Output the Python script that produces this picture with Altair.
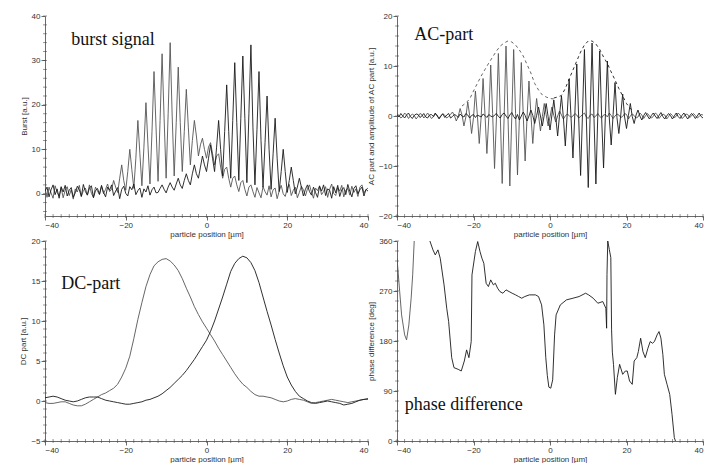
import altair as alt
import pandas as pd

# ---------------- data ----------------
# burst signal, sampled every 0.5 um from -40 to 40
burst_a = [1.2, -0.8, 1.5, 0.2, -1.0, 1.8, 0.3, -0.5, 1.4, -0.9, 0.8, 1.6, -0.4, 0.9, -1.2, 1.1, 0.4, 1.9, -0.6, 0.7,
           1.3, -0.3, 2.0, 0.1, -0.8, 1.5, 0.6, -0.2, 1.7, 0.0, 1.0, 2.2, 0.5,
           1.0, 3.0, 1.5, 0.3, 3.5, 6.5, 3.0, 0.8, 5.0, 10.0, 5.5, 1.2, 8.0, 16.5, 9.0, 1.8, 10.5, 20.5, 11.0, 2.2,
           14.0, 27.5, 15.0, 2.8, 16.5, 31.5, 17.0, 3.5, 18.0, 34.0, 17.5, 4.0, 16.0, 28.5, 16.0, 5.0, 14.0, 23.5,
           15.0, 6.5, 12.0, 16.5, 13.0, 8.5, 11.0, 12.5, 10.0, 8.0, 10.5, 11.5, 9.0, 6.5, 8.5, 9.0, 6.0, 3.5, 5.5,
           6.0, 3.5, 1.5, 3.5, 4.0, 2.0, 0.5, 2.5, 3.0, 1.0, -0.5, 1.5, 2.0, 0.5, -0.8,
           1.4, 0.2, -0.9, 1.6, 0.5, -0.3, 1.8, -0.7, 0.9, 1.3, -1.1, 0.6, 1.9, 0.0, -0.6, 1.2, 2.1, -0.4, 0.8, 1.5,
           -0.9, 0.3, 1.7, 0.9, -0.5, 1.1, 2.0, 0.4, -1.0, 1.3, 0.7, 1.8, -0.2, 0.5, 1.6, -0.8, 1.0, 2.2, 0.1, -0.4,
           1.4, 0.6, 1.9, -0.7, 0.8, 1.2, -0.3, 1.7, 0.3, 1.1, -0.6, 1.5, 2.0, 0.2, 0.9, 1.3]
burst_b = [0.6, 1.5, -0.7, 0.9, 2.0, -0.2, 1.1, -1.0, 1.6, 0.4, 1.9, -0.5, 0.8, 1.4, -0.8, 0.2, 1.7, 0.9, -0.6, 2.1,
           0.5, -0.3, 1.3, 1.8, -0.9, 0.7, 1.2, -0.1, 1.9, 0.3, -0.7, 1.5, 0.8, 2.0, -0.4, 0.6, 1.4, -1.1, 1.0, 1.7,
           0.1, -0.5, 1.6, 0.9, 2.2, -0.2, 0.7, 1.3, -0.8, 1.1, 0.4, 1.8, -0.3, 0.9, 1.5, 0.2,
           0.3, 1.2, 2.0, 1.0, 0.2, 1.5, 2.5, 1.5, 0.8, 2.2, 3.5, 2.0, 1.2, 3.0, 4.5, 3.0, 2.0, 4.5, 6.5, 4.5, 3.5,
           6.0, 8.5, 6.5, 5.0, 8.0, 11.0, 8.0, 5.0, 10.5, 16.5, 10.0, 4.0, 14.0, 24.5, 14.0, 3.5, 16.5, 29.5, 16.0,
           3.0, 17.0, 31.0, 17.0, 2.5, 18.0, 33.5, 15.0, 2.0, 14.5, 27.5, 12.0, 1.5, 11.5, 22.0, 10.0, 1.0, 9.0,
           17.0, 8.0, 0.5, 5.0, 10.0, 5.0, 0.3, 3.0, 6.0, 3.0, 0.0, 1.5, 3.5, 1.5, -0.5, 1.0, 2.0, 0.5, -0.3,
           1.5, 0.3, -0.8, 1.7, 0.6, 2.0, -0.4, 1.1, 0.8, -1.0, 1.6, 0.2, 1.9, -0.6, 0.9, 1.4, -0.2, 2.1, 0.5, -0.7,
           1.2, 1.8, 0.0, 0.9, 1.5, -0.5, 1.0, 0.6]

# AC part, sampled every 0.5 um from -40 to 40
ac_a = [0.5, 0.1, -0.4, -0.1, 0.6, 0.2, -0.5, 0.0, 0.4, 0.1, -0.6, -0.1, 0.5, 0.3, -0.4, 0.0, 0.6, 0.1, -0.5, -0.2,
        0.4, 0.2, -0.6, 0.0, 0.5, 0.1, -0.4, -0.1, 0.3,
        0.8, 0.1, -1.0, -0.1, 1.5, 0.2, -2.0, -0.2, 2.8, 0.1, -3.5, -0.3, 5.0, 0.3, -5.5, -0.2, 7.5, 0.4, -7.5, -0.3,
        10.2, 0.5, -10.5, -0.4, 12.5, 0.3, -13.5, -0.5, 14.0, 0.4, -14.0, -0.3, 13.3, 0.5, -11.8, -0.4, 10.7, 0.3,
        -9.0, -0.2, 7.0, 0.4, -5.5, -0.3, 3.5, 0.2, -3.0, -0.1, 2.5, 0.3, -2.0, -0.2, 1.8, 0.1, -1.2, 0.0, 1.0, 0.2,
        -0.6, 0.0,
        0.4, 0.1, -0.3, 0.0, 0.5, 0.2, -0.4, -0.1, 0.3, 0.6, -0.2, -0.5, 0.2, 0.4, -0.3, 0.0, 0.5, -0.1, -0.4, 0.2,
        0.3, -0.2, 0.6, 0.1, -0.5, 0.0, 0.4, 0.2, -0.3, -0.1, 0.5, 0.3, -0.6, 0.0, 0.4, 0.1, -0.4, -0.2, 0.6, 0.2,
        -0.5, 0.1, 0.5, 0.0, -0.4, -0.1, 0.6, 0.3, -0.5, 0.0, 0.4, 0.2, -0.6, -0.1, 0.5, 0.1, -0.4, 0.0, 0.6, 0.2,
        -0.5, -0.2, 0.4, 0.3, -0.3, 0.0, 0.5, 0.1, -0.4, -0.1, 0.3, 0.2]
ac_b = [0.3, -0.2, 0.5, 0.0, -0.4, 0.2, 0.6, -0.1, -0.5, 0.1, 0.4, 0.3, -0.3, 0.0, 0.5, -0.2, -0.4, 0.2, 0.3, -0.1,
        0.6, 0.0, -0.5, 0.1, 0.4, -0.3, 0.2, 0.5, -0.4, -0.1, 0.3, 0.1, -0.3, 0.4, 0.0, -0.2, 0.5, 0.2, -0.4, 0.1,
        0.3, -0.3, 0.2, 0.0, -0.2, 0.4, 0.1, -0.3, 0.3, 0.0, -0.2, 0.2, 0.5, -0.1, -0.4, 0.3, 0.6, 0.0, -0.5, 0.2,
        0.7, -0.1, -0.6, 0.3, -0.8, 0.0, 0.8, 0.1, -1.0, 0.0, 1.2, 0.1,
        -1.5, 0.1, 1.8, 0.0, -2.0, 0.2, 2.5, -0.1, -2.8, 0.2, 3.2, -0.2, -4.0, 0.3, 4.0, -0.3, -6.0, 0.4, 7.4, -0.3,
        -8.4, 0.5, 10.4, -0.4, -11.9, 0.5, 13.3, -0.4, -14.3, 0.3, 14.6, -0.5, -13.6, 0.4, 13.0, -0.3, -10.4, 0.5,
        11.0, -0.4, -5.8, 0.3, 6.7, -0.3, -3.5, 0.2, 4.4, -0.2, -2.5, 0.1, 2.5, -0.1, -1.5, 0.2, 1.2, 0.0, -0.8, 0.1,
        0.7,
        0.0, -0.6, 0.1, 0.6, 0.0, -0.5, 0.1, 0.7, -0.1, -0.6, 0.0, 0.5, 0.1, -0.6, 0.0, 0.6, -0.1, -0.5, 0.1, 0.6,
        0.0, -0.6, 0.0, 0.5, 0.1, -0.5, 0.0, 0.6, -0.1, -0.4]

# amplitude (envelope) of AC part, every 1 um
amp_a_x = list(range(-23, 2))
amp_a = [2.0, 2.6, 3.4, 5.0, 6.5, 8.0, 9.3, 10.6, 11.8, 13.0, 14.0, 14.6, 15.0, 14.8, 14.2, 13.2, 12.0, 10.3, 8.6,
         6.5, 5.2, 4.2, 3.8, 3.5, 3.4]
amp_b_x = list(range(1, 23))
amp_b = [3.6, 3.8, 4.1, 5.5, 7.4, 9.2, 11.0, 12.8, 14.2, 15.0, 15.0, 14.4, 13.3, 11.8, 10.5, 8.8, 7.2, 5.5, 4.0,
         2.5, 1.5, 1.0]

# DC part, every 1 um from -40 to 40
dc_a = [-0.2, -0.3, -0.3, -0.2, -0.1, -0.1, -0.3, -0.5, -0.6, -0.6, -0.4, -0.1, 0.2, 0.5, 0.8, 1.0, 1.3, 1.6, 2.1,
        3.0, 4.1, 5.6, 7.8, 10.2, 12.3, 14.3, 15.8, 16.9, 17.4, 17.7, 17.8, 17.5, 17.0, 16.3, 15.3, 14.1, 13.0, 11.8,
        10.8, 9.9, 9.1, 8.3, 7.5, 6.6, 5.8, 5.0, 4.2, 3.4, 2.7, 2.1, 1.7, 1.2, 0.8, 0.6, 0.6, 0.5, 0.4, 0.2, 0.0,
        -0.1, 0.0, 0.2, 0.3, 0.2, 0.1, -0.1, -0.3, -0.2, -0.1, 0.0, 0.1, 0.2, 0.1, 0.0, -0.1, -0.2, -0.1, 0.0, 0.1,
        0.2, 0.2]
dc_b = [0.4, 0.5, 0.6, 0.5, 0.3, 0.1, 0.0, -0.1, 0.0, 0.2, 0.4, 0.5, 0.5, 0.5, 0.3, 0.1, 0.0, -0.1, -0.2, -0.3,
        -0.4, -0.4, -0.3, -0.2, -0.1, 0.1, 0.2, 0.4, 0.6, 0.9, 1.3, 1.7, 2.2, 2.7, 3.2, 3.8, 4.5, 5.2, 6.0, 6.8, 7.6,
        8.7, 10.0, 11.5, 13.0, 14.6, 16.2, 17.2, 17.8, 18.1, 17.9, 17.3, 16.3, 14.8, 13.0, 11.2, 9.5, 7.7, 6.0, 4.4,
        3.0, 2.0, 1.2, 0.6, 0.3, 0.0, -0.2, -0.3, -0.2, -0.1, 0.0, -0.1, -0.2, -0.3, -0.5, -0.4, -0.3, -0.1, 0.1,
        0.2, 0.3]

# phase difference [deg], two branches (wrapped at 360)
ph1_x = [-40, -39.3, -38.8, -38, -37.5, -36.9, -36.3, -35.9, -35.5]
ph1_y = [329, 269, 227, 191, 182, 209, 257, 299, 360]
ph2_x = [-31.4, -30.6, -30, -29.3, -28.7, -27.7, -27, -26.5, -25.7, -25.1, -24, -23.2, -22.4, -21.8, -21.2, -20.6,
         -20.4, -19.5, -18.9, -18.3, -17.8, -17.3, -16.7, -16.1, -15.5, -14.8, -14.3, -13.7, -13.1, -12.3, -11.5,
         -10.7, -9.9, -9.0, -8.2, -7.4, -6.6, -5.4, -3.8, -3.0, -2.2, -1.6, -1.1, -0.7, -0.3, 0.2, 0.7, 1.2, 1.6,
         2.7, 4.3, 6.0, 7.6, 9.3, 10.1, 11.3, 12.5, 13.8, 14.6, 14.8, 14.9, 15.1, 15.5, 15.9, 16.1, 16.3, 16.6, 17.1,
         17.6, 18.2, 19.0, 19.7, 20.2, 20.8, 21.5, 22.0, 22.7, 23.1, 23.7, 24.3, 24.9, 25.6, 26.2, 26.8, 27.3, 28.0,
         28.5, 29.0, 29.5, 29.9, 30.6, 31.3, 31.9, 32.5, 32.8]
ph2_y = [360, 344, 335, 344, 329, 281, 239, 215, 150, 132, 129, 126, 144, 164, 150, 179,
         299, 341, 359, 341, 329, 320, 284, 278, 290, 281, 284, 275, 269, 266, 272,
         269, 266, 263, 260, 257, 260, 263, 263, 260, 245, 209, 150, 118, 97, 95, 110, 191, 227,
         245, 254, 257, 260, 266, 263, 257, 248, 251, 239, 203, 300, 360, 345, 330, 200, 160, 138, 84,
         114, 138, 120, 126, 126, 108, 102, 144, 150, 161, 185, 161, 150, 167, 179, 176, 179, 191,
         197, 185, 156, 120, 102, 84, 48, 6, 0]

# axis ticks (labelled and minor)
x_major = [-40, -20, 0, 20, 40]
x_minor = list(range(-40, 41, 2))
burst_major = [0, 10, 20, 30, 40]
burst_minor = list(range(-4, 41, 2))
ac_major = [-20, -10, 0, 10, 20]
ac_minor = list(range(-20, 21, 2))
dc_major = [-5, 0, 5, 10, 15, 20]
dc_minor = list(range(-5, 21, 1))
ph_major = [0, 90, 180, 270, 360]
ph_minor = list(range(0, 361, 18))


# ---------------- frames ----------------
def grid_frame(vals, start, step, name):
    return pd.DataFrame({"x": [start + step * i for i in range(len(vals))], "y": vals, "s": name})

burst_df = pd.concat([grid_frame(burst_a, -40, 0.5, "a"), grid_frame(burst_b, -40, 0.5, "b")])
ac_df = pd.concat([grid_frame(ac_a, -40, 0.5, "a"), grid_frame(ac_b, -40, 0.5, "b")])
amp_df = pd.concat([pd.DataFrame({"x": amp_a_x, "y": amp_a, "s": "a"}),
                    pd.DataFrame({"x": amp_b_x, "y": amp_b, "s": "b"})])
dc_df = pd.concat([grid_frame(dc_a, -40, 1, "a"), grid_frame(dc_b, -40, 1, "b")])
ph_df = pd.concat([pd.DataFrame({"x": ph1_x, "y": ph1_y, "s": "1"}),
                   pd.DataFrame({"x": ph2_x, "y": ph2_y, "s": "2"})])

LW, RW, H = 323, 306, 200
XT = "particle position [µm]"
serif = "Liberation Serif"
AXC = "#444444"


def xenc():
    return alt.X("x:Q", scale=alt.Scale(domain=[-40, 40], nice=False, zero=False),
                 axis=alt.Axis(title=XT, values=x_major, tickCount=len(x_major),
                               titlePadding=1, labelOverlap=False))


def yenc(lo, hi, major, title):
    return alt.Y("y:Q", scale=alt.Scale(domain=[lo, hi], nice=False, zero=False),
                 axis=alt.Axis(title=title, values=major, tickCount=len(major),
                               titlePadding=3, labelOverlap=False))


def lines(df, lo, hi, major, title, colors, dash=None, width=0.9):
    if dash:
        mk = alt.Chart(df).mark_line(strokeWidth=width, clip=True, strokeDash=dash)
    else:
        mk = alt.Chart(df).mark_line(strokeWidth=width, clip=True)
    return mk.encode(x=xenc(), y=yenc(lo, hi, major, title),
                     color=alt.Color("s:N", scale=alt.Scale(range=colors), legend=None),
                     detail="s:N")


def minor_ticks(lo, yminor):
    xt = alt.Chart(pd.DataFrame({"x": x_minor})).mark_tick(
        orient="vertical", size=4, thickness=0.8, color=AXC
    ).encode(x="x:Q", y=alt.datum(lo))
    yt = alt.Chart(pd.DataFrame({"y": yminor})).mark_tick(
        orient="horizontal", size=4, thickness=0.8, color=AXC
    ).encode(y="y:Q", x=alt.datum(-40))
    return [xt, yt]


def label(x, y, text):
    return alt.Chart(pd.DataFrame({"x": [x], "y": [y], "t": [text]})).mark_text(
        font=serif, fontSize=18, align="left", baseline="middle", color="#111"
    ).encode(x="x:Q", y="y:Q", text="t:N")


ac_title = "AC part and amplitude of AC part [a.u.]"

p1 = alt.layer(
    lines(burst_df, -5, 40, burst_major, "Burst [a.u.]", ["#555555", "#1a1a1a"]),
    *minor_ticks(-5, burst_minor),
    label(-33.5, 34.5, "burst signal"),
).properties(width=LW, height=H)

p2 = alt.layer(
    lines(ac_df, -20, 20, ac_major, ac_title, ["#555555", "#1a1a1a"]),
    lines(amp_df, -20, 20, ac_major, ac_title, ["#444444", "#444444"], dash=[3, 3]),
    *minor_ticks(-20, ac_minor),
    label(-35.5, 16.3, "AC-part"),
).properties(width=RW, height=H)

p3 = alt.layer(
    lines(dc_df, -5, 20, dc_major, "DC part [a.u.]", ["#333333", "#333333"]),
    *minor_ticks(-5, dc_minor),
    label(-36, 14.6, "DC-part"),
).properties(width=LW, height=H)

p4 = alt.layer(
    lines(ph_df, 0, 360, ph_major, "phase difference [deg]", ["#222222", "#222222"]),
    *minor_ticks(0, ph_minor),
    label(-38, 65, "phase difference"),
).properties(width=RW, height=H)

chart = alt.concat(
    p1, p2, p3, p4, columns=2,
    spacing={"row": 25, "column": 29}, bounds="flush",
).properties(
    padding={"left": 11, "top": 4, "right": 0, "bottom": 0}
).configure_view(stroke=None).configure_axis(
    grid=False, domainColor=AXC, tickColor=AXC, labelColor="#333", titleColor="#333",
    labelFont="Liberation Sans", titleFont="Liberation Sans", labelFontSize=8, titleFontSize=8,
    titleFontWeight="normal", tickSize=4, labelPadding=1, domainWidth=0.8, tickWidth=0.8
)

chart.save("out.html", embed_options={"renderer": "svg", "actions": False})
